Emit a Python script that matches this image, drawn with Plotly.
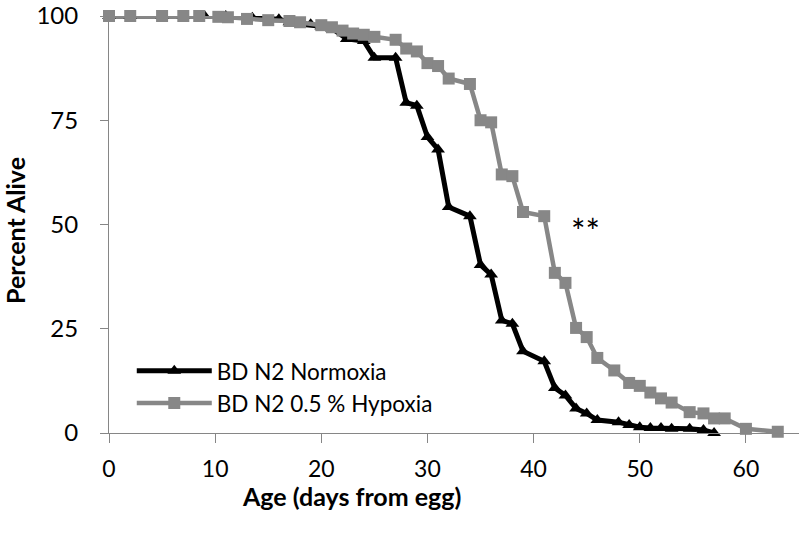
import plotly.graph_objects as go

# Data
norm_x = [0, 2, 5, 7, 9, 11, 13.5, 16, 17, 19, 20, 21, 22.4, 24, 25, 27, 28, 29, 30, 31, 32, 34,
          35, 36, 37, 38, 39, 41, 42, 43, 44, 45, 46, 48, 49, 50, 51, 52, 53, 54.7, 56, 57]
norm_y = [100, 100, 100, 100, 100, 100, 99.6, 99.2, 98.5, 98, 97.5, 97, 94.5, 94, 90, 90, 79.2, 78.5,
          71, 68, 54.2, 52, 40.3, 38, 27, 26.2, 19.6, 17.2, 10.8, 9, 5.9, 4.7, 3.1, 2.6, 1.9, 1.4,
          1.2, 1.2, 1, 1, 0.7, 0]

hyp_x = [0, 2, 5, 7, 8.5, 10.3, 11.2, 13, 15, 17, 18, 20, 21, 22, 23, 24, 25, 27, 28, 29, 30, 31,
         32, 34, 35, 36, 37, 38, 39, 41, 42, 43, 44, 45, 46, 47.6, 49, 50, 51, 52, 53, 54.7, 56, 57,
         58, 60, 63]
hyp_y = [100, 100, 100, 100, 100, 99.8, 99.7, 99.3, 99, 98.8, 98.5, 97.8, 97.3, 96.5, 95.8, 95.5, 95,
         94.3, 92.2, 91.5, 88.7, 88, 85, 83.7, 75, 74.5, 62, 61.6, 53, 52, 38.4, 36, 25.2, 23, 18,
         15, 12, 11.3, 9.7, 8.3, 7.3, 5, 4.7, 3.5, 3.5, 1, 0.3]

x_ticks = [0, 10, 20, 30, 40, 50, 60]
y_ticks = [0, 25, 50, 75, 100]

FONT = "Lato"
AXIS_COLOR = "#868686"
GRAY = "#878787"

W, H = 799, 534
L, R, T, B = 109, 0, 8, 101
pw, ph = W - L - R, H - T - B


def px_x(p):
    return (p - L) / pw


def px_y(p):
    return (H - B - p) / ph


fig = go.Figure()
fig.add_trace(go.Scatter(
    x=norm_x, y=norm_y, mode="lines+markers", name="BD N2 Normoxia",
    line=dict(color="black", width=5),
    marker=dict(symbol="triangle-up", size=12, color="black"),
    cliponaxis=False,
))
fig.add_trace(go.Scatter(
    x=hyp_x, y=hyp_y, mode="lines+markers", name="BD N2 0.5 % Hypoxia",
    line=dict(color=GRAY, width=4.5),
    marker=dict(symbol="square", size=12, color=GRAY),
    cliponaxis=False,
))

fig.add_annotation(x=44.9, y=48.6, xref="x", yref="y", text="**", showarrow=False,
                   xanchor="center", yanchor="middle",
                   font=dict(family=FONT, size=34, color="black"))
fig.add_annotation(x=px_x(351), y=px_y(497), xref="paper", yref="paper",
                   text="<b>Age (days from egg)</b>", showarrow=False,
                   xanchor="center", yanchor="middle",
                   font=dict(family=FONT, size=25, color="black"))
fig.add_annotation(x=px_x(15), y=px_y(227), xref="paper", yref="paper",
                   text="<b>Percent Alive</b>", showarrow=False, textangle=-90,
                   xanchor="center", yanchor="middle",
                   font=dict(family=FONT, size=25, color="black"))

fig.update_layout(
    width=W, height=H,
    margin=dict(l=L, r=R, t=T, b=B),
    plot_bgcolor="white", paper_bgcolor="white",
    font=dict(family=FONT, size=23, color="black"),
    showlegend=True,
    legend=dict(x=0.033, y=0.11, xanchor="left", yanchor="middle",
                bgcolor="rgba(0,0,0,0)", font=dict(family=FONT, size=22.5, color="black"),
                itemwidth=75, tracegroupgap=0),
    xaxis=dict(range=[0, 65], tickvals=x_ticks, ticktext=[str(v) for v in x_ticks],
               showgrid=False, zeroline=False, showline=True, linecolor=AXIS_COLOR, linewidth=1,
               ticks="outside", ticklen=9, tickcolor=AXIS_COLOR, tickfont=dict(size=23),
               ticklabelstandoff=6, ticklabeloverflow="allow"),
    yaxis=dict(range=[0, 100], tickvals=y_ticks, ticktext=[str(v) for v in y_ticks],
               showgrid=False, zeroline=False, showline=True, linecolor=AXIS_COLOR, linewidth=1,
               ticks="outside", ticklen=8, tickcolor=AXIS_COLOR, tickfont=dict(size=24),
               ticklabelstandoff=17, ticklabeloverflow="allow"),
)

fig.write_html("out.html", config={"displayModeBar": False},
               post_script="document.body.style.margin='0';")
